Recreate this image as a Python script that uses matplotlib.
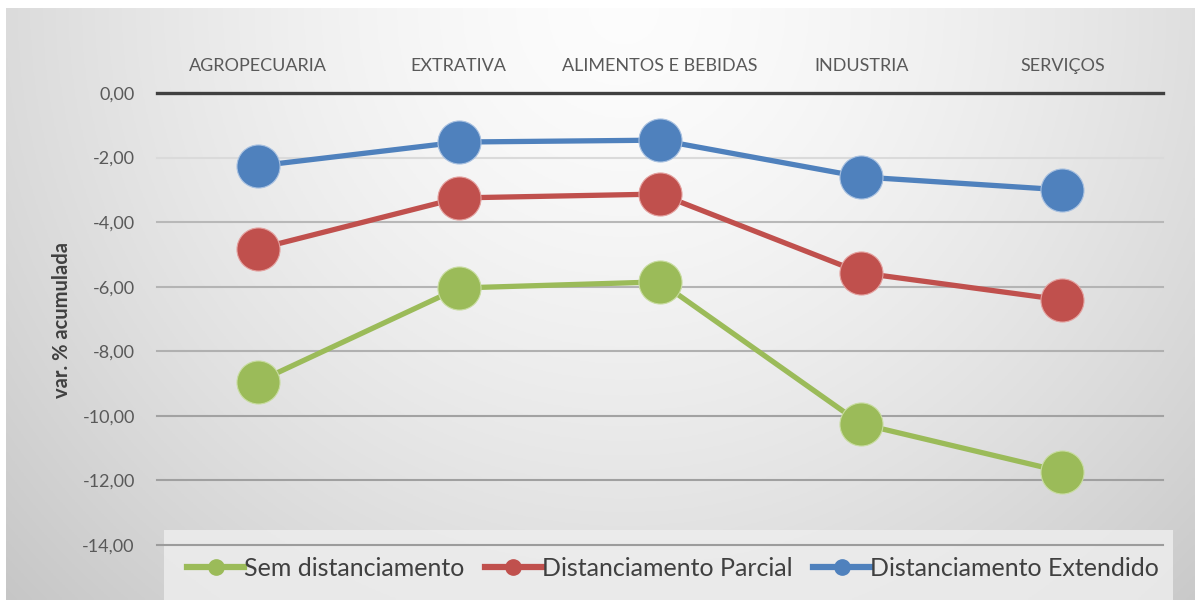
import numpy as np
import matplotlib
matplotlib.use("Agg")
import matplotlib.pyplot as plt
from matplotlib.patches import Rectangle
from matplotlib.lines import Line2D

categories = ["AGROPECUARIA", "EXTRATIVA", "ALIMENTOS E BEBIDAS", "INDUSTRIA", "SERVIÇOS"]
sem_dist = [-8.95, -6.04, -5.85, -10.25, -11.73]
dist_parcial = [-4.83, -3.25, -3.13, -5.57, -6.41]
dist_extendido = [-2.26, -1.52, -1.46, -2.60, -3.00]
series_names = ["Sem distanciamento", "Distanciamento Parcial", "Distanciamento Extendido"]
yticks = [0, -2, -4, -6, -8, -10, -12, -14]
ytick_labels = ["0,00", "-2,00", "-4,00", "-6,00", "-8,00", "-10,00", "-12,00", "-14,00"]
ylabel = "var. % acumulada"

colors = ["#9BBB59", "#C0504D", "#4F81BD"]
edge_colors = ["#c8dca0", "#e3a09e", "#a7c0e0"]

W, H = 1195, 603
plt.rcParams["font.family"] = ["Lato", "DejaVu Sans"]
fig = plt.figure(figsize=(W / 100, H / 100), dpi=100, facecolor="white")

# background gradient
bg = fig.add_axes([6 / W, 3 / H, 1189 / W, 592 / H], zorder=-2)
xx, yy = np.meshgrid(np.linspace(0, 1, 400), np.linspace(0, 1, 200))
r = np.sqrt(((xx - 0.52) / 0.62) ** 2 + (yy / 1.25) ** 2)
val = np.clip(0.99 - 0.17 * r ** 1.5, 0.76, 1.0)
bg.imshow(np.dstack([val, val, val]), aspect="auto", extent=[0, 1, 1, 0])
bg.set_axis_off()

# legend box
fig.patches.append(Rectangle((164 / W, 3 / H), (1173 - 164) / W, (603 - 530 - 3) / H,
                             transform=fig.transFigure, facecolor="#ededed", alpha=0.85,
                             edgecolor="none", zorder=-1))

ax = fig.add_axes([157 / W, (H - 545) / H, (1163 - 157) / W, (545 - 93) / H])
ax.set_facecolor("none")
x = np.arange(len(categories))
ax.set_xlim(-0.5, len(categories) - 0.5)
ax.set_ylim(-14, 0)

grid_cols = {-2: "#dadada", -4: "#b8b8b8", -6: "#b4b4b4", -8: "#b0b0b0",
             -10: "#a2a2a2", -12: "#a0a0a0", -14: "#9c9c9c"}
for yv, c in grid_cols.items():
    ax.axhline(yv, color=c, lw=1.5, zorder=1, clip_on=False)
ax.axhline(0, color="#404040", lw=2.4, zorder=2, clip_on=False)

for vals, c, ec, name in zip([sem_dist, dist_parcial, dist_extendido], colors, edge_colors, series_names):
    ax.plot(x, vals, color=c, lw=3.8, marker="o", ms=31, mfc=c, mec=ec, mew=0.8,
            zorder=3, clip_on=False, label=name)

for s in ax.spines.values():
    s.set_visible(False)
ax.xaxis.tick_top()
ax.set_xticks(x)
ax.set_xticklabels(categories, fontsize=13, color="#595959")
ax.tick_params(axis="x", length=0, pad=14)
ax.set_yticks(yticks)
ax.set_yticklabels(ytick_labels, fontsize=13, color="#595959")
ax.tick_params(axis="y", length=0, pad=16)

fig.text(62 / W, 1 - 320 / H, ylabel, rotation=90, ha="center", va="center",
         fontsize=14.5, fontweight="bold", color="#404040")

handles = [Line2D([0], [0], color=c, lw=4.5, marker="o", ms=11, mfc=c, mec=c) for c in colors]
fig.legend(handles, series_names, loc="center", bbox_to_anchor=(673 / W, 1 - 568 / H),
           ncol=3, frameon=False, fontsize=18, labelcolor="#404040",
           handlelength=2.3, handletextpad=0.0, columnspacing=0.8)

fig.savefig("out.png", dpi=100, facecolor="white")
